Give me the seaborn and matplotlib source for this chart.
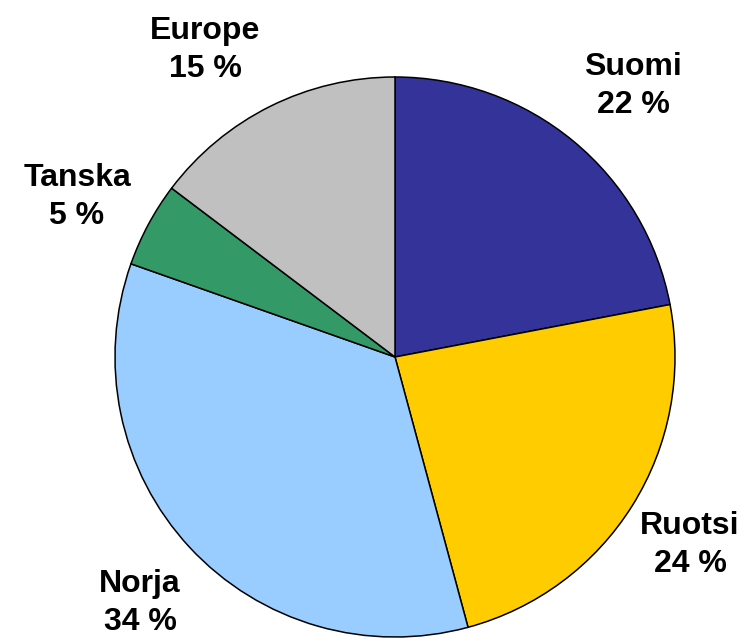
import matplotlib
matplotlib.use("Agg")
import matplotlib.pyplot as plt
import seaborn as sns

# shares; labels show the rounded figures
regions = ["Suomi", "Ruotsi", "Norja", "Tanska", "Europe"]
shares = [22.0, 23.8, 34.6, 4.9, 14.7]
pct_labels = ["22 %", "24 %", "34 %", "5 %", "15 %"]
colors = ["#333399", "#FFCC00", "#99CCFF", "#339966", "#C0C0C0"]

# label block centres in pixels (x, y from top)
label_pos = [(633, 86), (690, 545), (140, 603), (77, 197), (205, 50)]

sns.set_theme(style="white")
plt.rcParams["font.family"] = ["Liberation Sans", "DejaVu Sans"]

W, H = 753, 641
fig = plt.figure(figsize=(W / 100, H / 100), dpi=100)
cx, cy, r = 395, 357, 280
ax = fig.add_axes([(cx - r) / W, (H - cy - r) / H, 2 * r / W, 2 * r / H])

ax.pie(shares, colors=sns.color_palette(colors), startangle=90, counterclock=False,
       wedgeprops=dict(edgecolor="black", linewidth=1.1))
ax.set_xlim(-1, 1)
ax.set_ylim(-1, 1)
ax.set_aspect("equal")
ax.axis("off")

for name, pct, (px, py) in zip(regions, pct_labels, label_pos):
    fig.text(px / W, 1 - py / H, f"{name}\n{pct}", ha="center", va="center",
             fontsize=23, fontweight="bold", linespacing=1.35, color="black")

fig.savefig("out.png", dpi=100)
